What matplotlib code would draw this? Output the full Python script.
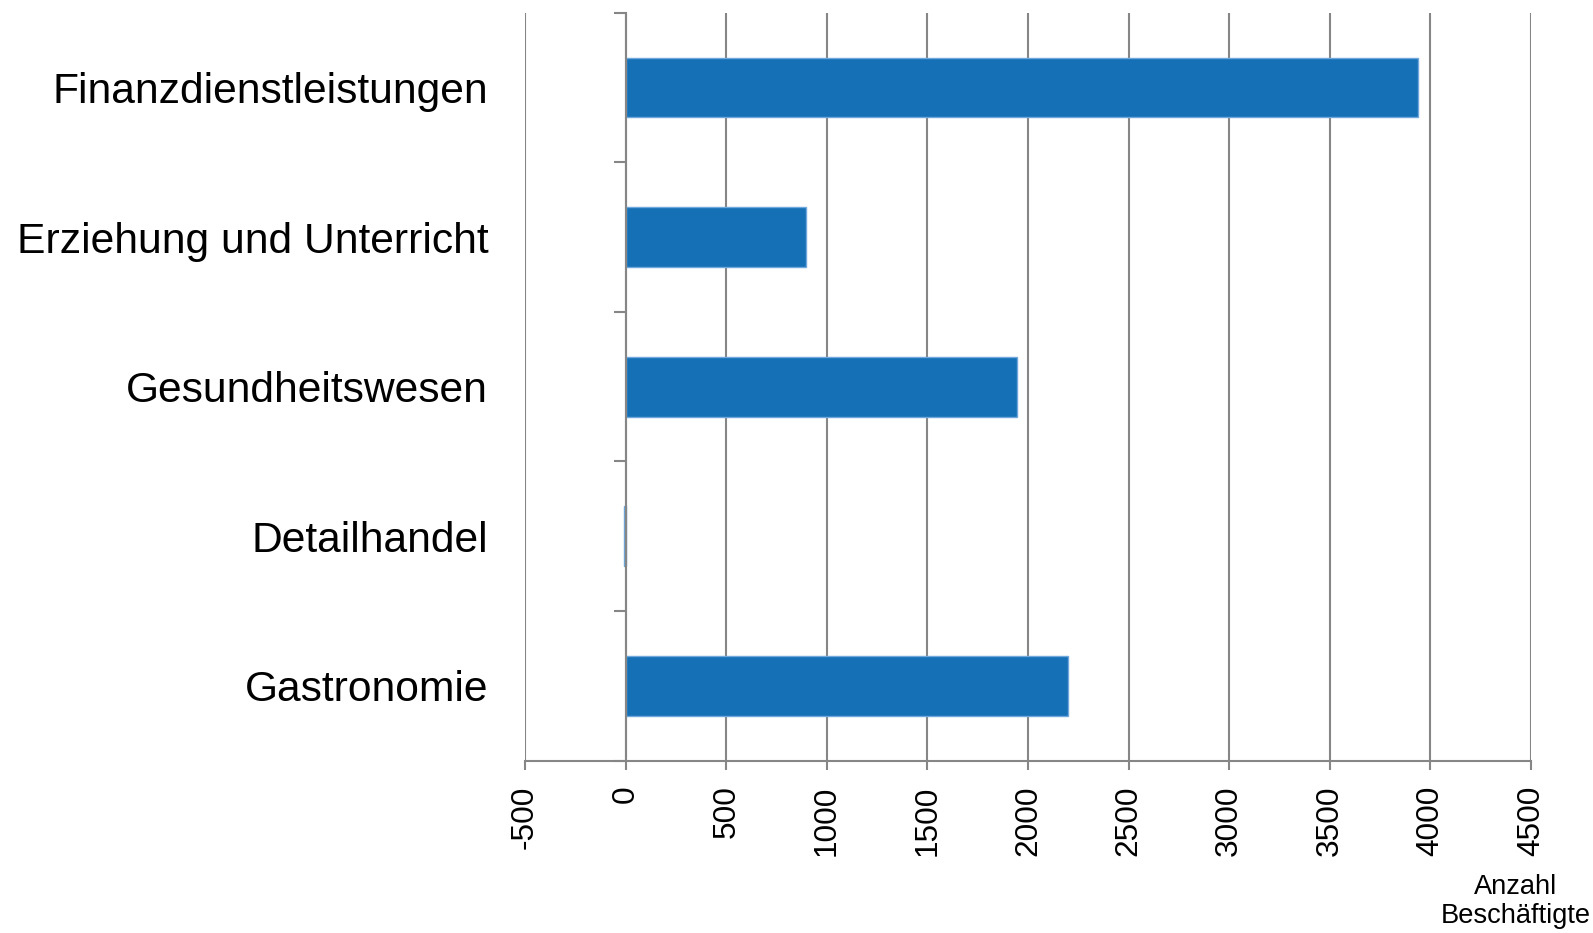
import matplotlib
matplotlib.use('Agg')
import matplotlib.pyplot as plt
import numpy as np

plt.rcParams['font.family'] = ['Liberation Sans', 'DejaVu Sans']

# data, top to bottom as in the chart
categories = ['Finanzdienstleistungen', 'Erziehung und Unterricht',
              'Gesundheitswesen', 'Detailhandel', 'Gastronomie']
employees = [3940, 895, 1945, -8, 2200]
xticks = [-500, 0, 500, 1000, 1500, 2000, 2500, 3000, 3500, 4000, 4500]

GRAY = '#868686'
BLUE = '#1570b5'

fig = plt.figure(figsize=(15.93, 9.33), dpi=100)
ax = fig.add_axes([0.3296, 0.1847, 0.6315, 0.8017])

ypos = np.arange(len(categories))[::-1]
ax.barh(ypos, employees, height=0.4, color=BLUE, edgecolor='#6fa8dc',
        linewidth=1, zorder=3)

ax.set_xlim(xticks[0], xticks[-1])
ax.set_ylim(-0.5, len(categories) - 0.5)

# vertical gridlines
for x in xticks:
    ax.axvline(x, color=GRAY, linewidth=1.5, zorder=1)

# category axis sits at x=0
ax.spines['left'].set_position(('data', 0))
ax.spines['left'].set_color(GRAY)
ax.spines['left'].set_linewidth(1.5)
ax.spines['left'].set_zorder(4)
ax.spines['bottom'].set_color(GRAY)
ax.spines['bottom'].set_linewidth(1.5)
ax.spines['top'].set_visible(False)
ax.spines['right'].set_visible(False)

ax.set_yticks(ypos)
ax.set_yticklabels(categories, fontsize=30.7)
ax.set_yticks(np.arange(-0.5, len(categories)), minor=True)
ax.tick_params(axis='y', which='major', length=0, pad=99)
ax.tick_params(axis='y', which='minor', length=8.6, width=1.5, color=GRAY)

ax.set_xticks(xticks)
ax.set_xticklabels([str(v) for v in xticks], rotation=90, fontsize=22.8)
ax.tick_params(axis='x', length=6.7, width=1.5, color=GRAY, pad=11)

fig.text(0.9517, 0.063, 'Anzahl\nBeschäftigte', ha='center', va='top',
         fontsize=19.6, linespacing=1.15)

fig.savefig('out.png', dpi=100)
